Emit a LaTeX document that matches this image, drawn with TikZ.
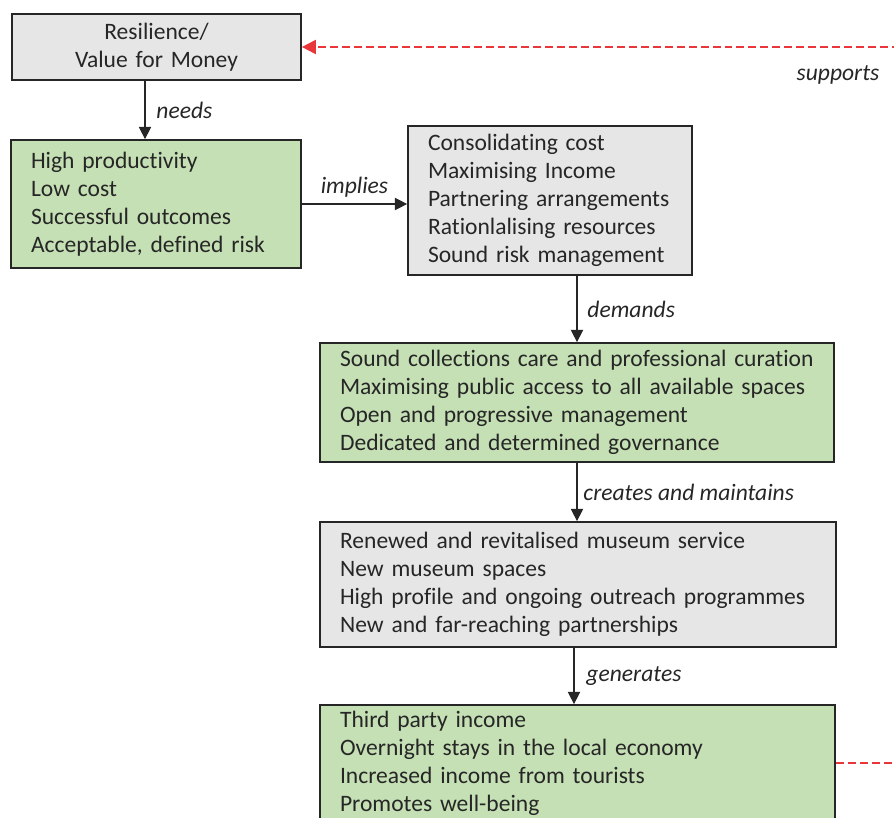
\documentclass[tikz,border=0pt]{standalone}
\usepackage{fontspec}
\setmainfont{Carlito}[Ligatures=NoCommon]
\usetikzlibrary{arrows.meta}
\definecolor{boxgray}{HTML}{E6E6E6}
\definecolor{boxgreen}{HTML}{C5E0B4}
\definecolor{linkred}{HTML}{E8363A}
\definecolor{inkgray}{HTML}{262626}

\begin{document}
\begin{tikzpicture}[x=0.02cm, y=-0.02cm,
	every node/.style={font=\fontsize{13.4}{15.9}\selectfont, text=inkgray},
	greybox/.style={draw=inkgray, line width=1pt, fill=boxgray, inner xsep=0.4cm, inner ysep=2pt, align=left},
	greenbox/.style={greybox, fill=boxgreen},
	flow/.style={-{Triangle[length=7pt,width=7pt]}, line width=0.7pt, draw=inkgray},
	feedback/.style={-{Triangle[length=8pt,width=8pt]}, draw=linkred, line width=1.1pt, dash pattern=on 4.5pt off 2.3pt},
	verb/.style={font=\fontsize{13.4}{15.9}\selectfont\itshape}]
	\useasboundingbox (0,0) rectangle (894,818);
	\clip (0,0) rectangle (894,818);

	% boxes
	\node[greybox, align=center, text width=4.98cm, minimum height=1.32cm] (res) at (156.5,47) {Resilience/\\Value for Money};
	\node[greenbox, text width=5.0cm, minimum height=2.56cm] (aims) at (156,204) {High productivity\\Low cost\\Successful outcomes\\Acceptable, defined risk};
	\node[greybox, text width=4.88cm, minimum height=2.98cm] (cost) at (550,200.5) {Consolidating cost\\Maximising Income\\Partnering arrangements\\Rationlalising resources\\Sound risk management};
	\node[greenbox, text width=9.48cm, minimum height=2.38cm] (care) at (577,402.5) {Sound collections care and professional curation\\Maximising public access to all available spaces\\Open and progressive management\\Dedicated and determined governance};
	\node[greybox, text width=9.52cm, minimum height=2.5cm] (serv) at (578,584.5) {Renewed and revitalised museum service\\New museum spaces\\High profile and ongoing outreach programmes\\New and far-reaching partnerships};
	\node[greenbox, text width=9.5cm, minimum height=2.32cm] (gain) at (577.5,763) {Third party income\\Overnight stays in the local economy\\Increased income from tourists\\Promotes well-being};

	% links
	\draw[flow] ([xshift=-0.23cm]res.south) -- ([xshift=-0.23cm]res.south |- aims.north) node[verb, midway, right=0.1cm] {needs};
	\draw[flow] (aims.east) -- (aims.east -| cost.west) node[verb, midway, above] {implies};
	\draw[flow] (care.north |- cost.south) -- (care.north) node[verb, midway, right=0.08cm] {demands};
	\draw[flow] (care.south) -- (care.south |- serv.north) node[verb, midway, right] {creates and maintains};
	\draw[flow] ([xshift=-0.08cm]serv.south) -- ([xshift=-0.08cm]serv.south |- gain.north) node[verb, midway, right=0.12cm] {generates};

	% feedback loop
	\coordinate (turnlow) at (910,763);
	\coordinate (turnhigh) at (910,47);
	\draw[feedback] (gain.east) -- (turnlow) -- (turnhigh) -- (res.east);
	\node[verb] (supp) at (838,75) {supports};
\end{tikzpicture}
\end{document}
